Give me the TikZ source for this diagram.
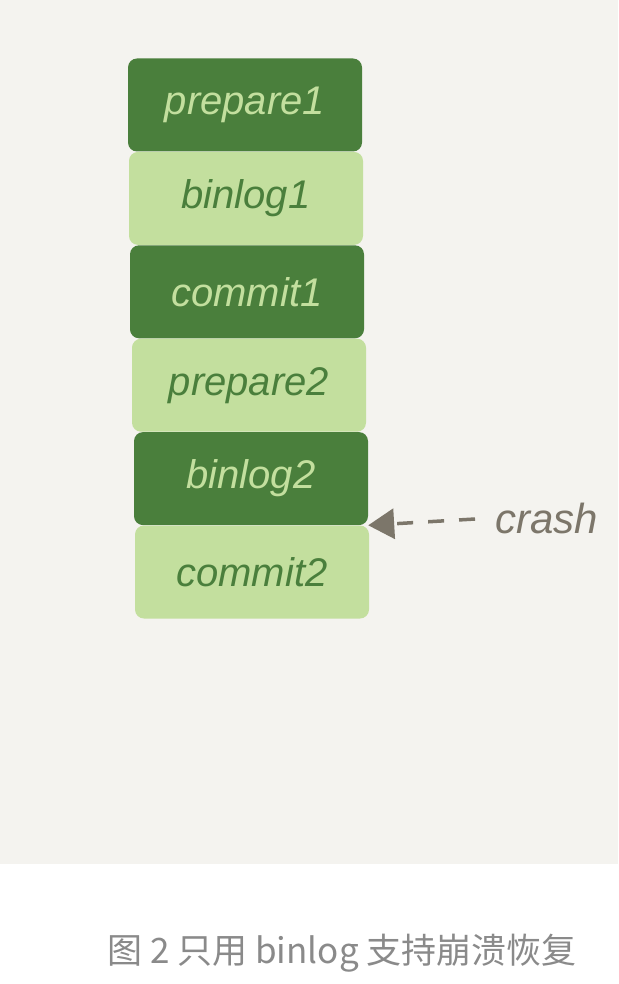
\documentclass[tikz,border=0pt]{standalone}
\usepackage{fontspec}
\setmainfont{Liberation Sans}
\newfontfamily\cjk{Noto Sans CJK SC}
\usetikzlibrary{positioning,arrows.meta}

\definecolor{bgpaper}{HTML}{F4F3EF}
\definecolor{darkleaf}{HTML}{4A7F3C}
\definecolor{lightleaf}{HTML}{C3DF9E}
\definecolor{crashgray}{HTML}{7C766A}
\definecolor{capgray}{HTML}{8A8A8A}

\tikzset{
  logbox/.style={rounded corners=9pt, minimum width=234pt, minimum height=93pt,
    inner sep=0pt, font=\fontsize{40}{42}\selectfont\itshape},
  darkbox/.style={logbox, fill=darkleaf, text=lightleaf},
  lightbox/.style={logbox, fill=lightleaf, text=darkleaf},
}

\begin{document}
\begin{tikzpicture}[x=1pt,y=-1pt]
            \useasboundingbox (0,0) rectangle (618,984);
            \fill[bgpaper] (0,0) rectangle (618,864);

            % the log stack
            \node[darkbox] (prep1) at (245,105) {prepare1};
            \node[lightbox, below=0pt of prep1, xshift=1pt] (bin1) {binlog1};
            \node[darkbox, below=0pt of bin1, xshift=1pt] (com1) {commit1};
            \node[lightbox, below=0pt of com1, xshift=2pt] (prep2) {prepare2};
            \node[darkbox, below=0pt of prep2, xshift=2pt] (bin2) {binlog2};
            \node[lightbox, below=0pt of bin2, xshift=1pt] (com2) {commit2};

            % crash marker
            \node[text=crashgray, font=\fontsize{42}{44}\selectfont\itshape, anchor=west] (crash) at (492,518) {crash};
            \draw[crashgray, line width=3.5pt, dash pattern=on 16pt off 15pt, shorten <=17pt,
                  -{Triangle[length=26pt,width=30pt]}] (crash.west) -- (bin2.south east);

            % caption
            \node[text=capgray, font=\cjk\fontsize{35}{38}\selectfont] (caption) at (342,953) {图 2 只用 binlog 支持崩溃恢复};
        \end{tikzpicture}
\end{document}
